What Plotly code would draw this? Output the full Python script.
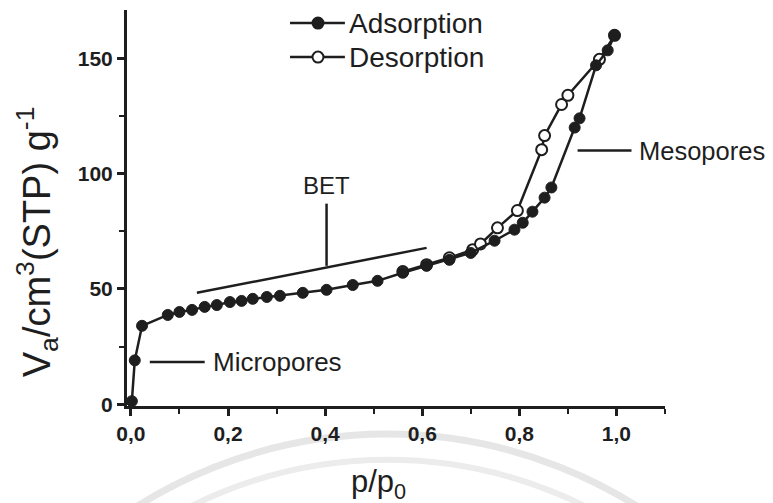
import plotly.graph_objects as go

# ---- data ----
ads_x = [0.002, 0.008, 0.023, 0.076, 0.100, 0.126, 0.152, 0.177, 0.204, 0.228, 0.251, 0.280,
         0.307, 0.354, 0.403, 0.457, 0.508, 0.560, 0.609, 0.656, 0.700, 0.749, 0.790, 0.807,
         0.827, 0.852, 0.866, 0.914, 0.924, 0.958, 0.982, 0.996]
ads_y = [1.3, 19, 34, 38.7, 40.0, 40.9, 42.2, 43.0, 44.3, 44.8, 45.7, 46.5,
         47.0, 48.3, 49.6, 51.7, 53.5, 57.0, 60.0, 62.6, 65.6, 70.9, 75.7, 78.7,
         83.5, 89.6, 94.0, 120, 124, 147, 153.5, 160]

des_x = [0.560, 0.609, 0.656, 0.704, 0.720, 0.755, 0.796, 0.846, 0.852, 0.887, 0.900, 0.965, 0.996]
des_y = [57.5, 60.5, 63.5, 67.0, 69.5, 76.5, 84.0, 110.4, 116.5, 130, 134, 149.6, 160]

series_names = ["Adsorption", "Desorption"]

x_ticks = [0.0, 0.2, 0.4, 0.6, 0.8, 1.0]
y_ticks = [0, 50, 100, 150]

bet_x = [0.136, 0.609]
bet_y = [48.3, 67.8]

FONT = "Liberation Sans, Arial, sans-serif"
INK = "#1e1e1e"

fig = go.Figure()

fig.add_trace(go.Scatter(
    x=des_x, y=des_y, mode="lines+markers", name=series_names[1],
    line=dict(color=INK, width=2.5),
    marker=dict(symbol="circle", size=11, color="white", line=dict(color=INK, width=2)),
))
fig.add_trace(go.Scatter(
    x=ads_x, y=ads_y, mode="lines+markers", name=series_names[0],
    line=dict(color=INK, width=2.5),
    marker=dict(symbol="circle", size=11, color=INK, line=dict(color=INK, width=1)),
))

# BET fit line
fig.add_trace(go.Scatter(
    x=bet_x, y=bet_y, mode="lines", showlegend=False,
    line=dict(color=INK, width=2.5), hoverinfo="skip",
))

# annotation pointer lines
fig.add_shape(type="line", x0=0.403, x1=0.403, y0=60, y1=87, line=dict(color=INK, width=2.5))
fig.add_shape(type="line", x0=0.039, x1=0.152, y0=18.3, y1=18.3, line=dict(color=INK, width=2.5))
fig.add_shape(type="line", x0=0.92, x1=1.031, y0=110, y1=110, line=dict(color=INK, width=2.5))

ann_font = dict(family=FONT, size=26, color=INK)
fig.add_annotation(x=0.403, y=95, text="BET", showarrow=False,
                   font=dict(family=FONT, size=24, color=INK), xanchor="center", yanchor="middle")
fig.add_annotation(x=0.165, y=18.3, text="Micropores", showarrow=False, font=ann_font,
                   xanchor="left", yanchor="middle")
fig.add_annotation(x=1.042, y=110, text="Mesopores", showarrow=False,
                   font=dict(family=FONT, size=25.5, color=INK),
                   xanchor="left", yanchor="middle")

# legend (drawn by hand so the key line is as long as in the reference)
legend_rows = [(series_names[0], 0.967, INK), (series_names[1], 0.881, "white")]
for name, yy, fill in legend_rows:
    fig.add_shape(type="line", xref="paper", yref="paper", x0=0.303, x1=0.405, y0=yy, y1=yy,
                  line=dict(color=INK, width=2.5))
    fig.add_shape(type="circle", xref="paper", yref="paper", xsizemode="pixel", ysizemode="pixel",
                  xanchor=0.355, yanchor=yy, x0=-5.5, x1=5.5, y0=-5.5, y1=5.5,
                  fillcolor=fill, line=dict(color=INK, width=2))
    fig.add_annotation(xref="paper", yref="paper", x=0.409, y=yy, text=name, showarrow=False,
                       font=dict(family=FONT, size=28, color=INK), xanchor="left", yanchor="middle")

# axis titles
fig.add_annotation(xref="paper", yref="paper", x=-0.168, y=0.415,
                   text="V<sub>a</sub>/cm<sup>3</sup>(STP) g<sup>-1</sup>", textangle=-90,
                   showarrow=False, font=dict(family=FONT, size=38, color=INK),
                   xanchor="center", yanchor="middle")
fig.add_annotation(xref="paper", yref="paper", x=0.467, y=-0.198,
                   text="p/p<sub>0</sub>", showarrow=False,
                   font=dict(family=FONT, size=31, color=INK),
                   xanchor="center", yanchor="middle")

# faint watermark arcs in the bottom margin
fig.add_shape(type="circle", xref="paper", yref="paper", layer="below",
              x0=-0.390, x1=1.357, y0=-2.45, y1=-0.071,
              line=dict(color="#e6e6e6", width=7))
fig.add_shape(type="circle", xref="paper", yref="paper", layer="below",
              x0=-0.333, x1=1.303, y0=-2.348, y1=-0.136,
              line=dict(color="#ececec", width=6))

fig.update_layout(
    width=765, height=495,
    margin=dict(l=119, r=108, t=2, b=97),
    paper_bgcolor="white", plot_bgcolor="rgba(0,0,0,0)",
    separators=",.",
    showlegend=False,
    font=dict(family=FONT, color=INK),
)
fig.update_xaxes(
    range=[-0.008, 1.1], tickvals=x_ticks, tickformat=".1f", automargin=False,
    showline=True, linewidth=3, linecolor=INK, mirror=False,
    ticks="outside", ticklen=7, tickwidth=2.5, tickcolor=INK,
    minor=dict(dtick=0.1, ticks="outside", ticklen=5, tickwidth=2, tickcolor=INK),
    showgrid=False, zeroline=False,
    tickfont=dict(family=FONT, size=21, color=INK, weight="bold"),
)
fig.update_yaxes(
    range=[-0.8, 171], tickvals=y_ticks, automargin=False,
    showline=True, linewidth=3, linecolor=INK, mirror=False,
    ticks="outside", ticklen=7, tickwidth=2.5, tickcolor=INK,
    minor=dict(dtick=25, ticks="outside", ticklen=5, tickwidth=2, tickcolor=INK),
    showgrid=False, zeroline=False,
    tickfont=dict(family=FONT, size=21, color=INK, weight="bold"),
)

fig.write_html("out.html")
